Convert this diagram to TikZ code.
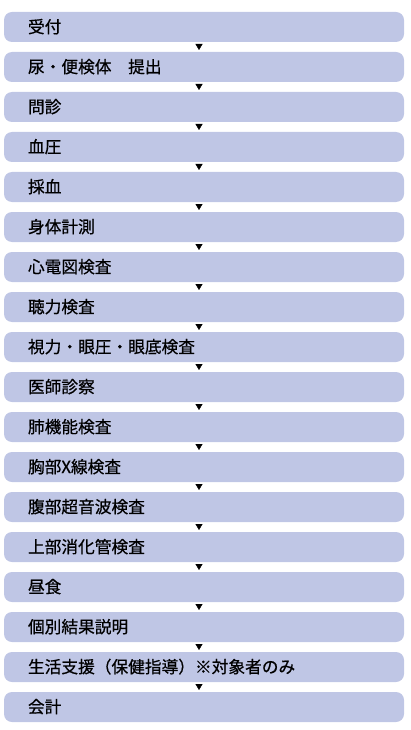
\documentclass[tikz,border=0pt]{standalone}
\usepackage{fontspec}
\newfontfamily\jpfont[FakeBold=0.6]{Noto Sans CJK JP}
\usetikzlibrary{arrows.meta,positioning}

\definecolor{stepfill}{RGB}{191,198,229}

\tikzset{
  stagebox/.style={fill=stepfill, rounded corners=8pt, minimum width=400pt,
    minimum height=30pt, text width=352pt, align=left, inner xsep=24pt,
    inner ysep=0pt, outer sep=0pt, text height=13.5pt, text depth=1.5pt,
    font=\jpfont\fontsize{16.7}{18}\selectfont, anchor=north},
  nextstep/.style={-{Triangle[width=7pt,length=6pt]}, shorten <=2pt, shorten >=2pt}
}

\begin{document}
\begin{tikzpicture}[x=1pt,y=1pt]

    % page frame
    \useasboundingbox (0,0) rectangle (410,-730);

    % reception
    \node[stagebox] (uketsuke) at (204,-12) {受付};
    \node[stagebox, below=10pt of uketsuke] (kentai) {尿・便検体　提出};
    \node[stagebox, below=10pt of kentai] (monshin) {問診};
    \node[stagebox, below=10pt of monshin] (ketsuatsu) {血圧};
    \node[stagebox, below=10pt of ketsuatsu] (saiketsu) {採血};
    \node[stagebox, below=10pt of saiketsu] (shintai) {身体計測};

    % examinations
    \node[stagebox, below=10pt of shintai] (shindenzu) {心電図検査};
    \node[stagebox, below=10pt of shindenzu] (choryoku) {聴力検査};
    \node[stagebox, below=10pt of choryoku] (shiryoku) {視力・眼圧・眼底検査};
    \node[stagebox, below=10pt of shiryoku] (shinsatsu) {医師診察};
    \node[stagebox, below=10pt of shinsatsu] (haikino) {肺機能検査};
    \node[stagebox, below=10pt of haikino] (xsen) {胸部X線検査};
    \node[stagebox, below=10pt of xsen] (choonpa) {腹部超音波検査};
    \node[stagebox, below=10pt of choonpa] (shokakan) {上部消化管検査};

    % lunch and results
    \node[stagebox, below=10pt of shokakan] (chushoku) {昼食};
    \node[stagebox, below=10pt of chushoku] (setsumei) {個別結果説明};
    \node[stagebox, below=10pt of setsumei] (shien) {生活支援（保健指導）※対象者のみ};
    \node[stagebox, below=10pt of shien] (kaikei) {会計};

    % arrows between stages
    \draw[nextstep] ([xshift=-5pt]uketsuke.south) to ([xshift=-5pt]kentai.north);
    \draw[nextstep] ([xshift=-5pt]kentai.south) to ([xshift=-5pt]monshin.north);
    \draw[nextstep] ([xshift=-5pt]monshin.south) to ([xshift=-5pt]ketsuatsu.north);
    \draw[nextstep] ([xshift=-5pt]ketsuatsu.south) to ([xshift=-5pt]saiketsu.north);
    \draw[nextstep] ([xshift=-5pt]saiketsu.south) to ([xshift=-5pt]shintai.north);
    \draw[nextstep] ([xshift=-5pt]shintai.south) to ([xshift=-5pt]shindenzu.north);
    \draw[nextstep] ([xshift=-5pt]shindenzu.south) to ([xshift=-5pt]choryoku.north);
    \draw[nextstep] ([xshift=-5pt]choryoku.south) to ([xshift=-5pt]shiryoku.north);
    \draw[nextstep] ([xshift=-5pt]shiryoku.south) to ([xshift=-5pt]shinsatsu.north);
    \draw[nextstep] ([xshift=-5pt]shinsatsu.south) to ([xshift=-5pt]haikino.north);
    \draw[nextstep] ([xshift=-5pt]haikino.south) to ([xshift=-5pt]xsen.north);
    \draw[nextstep] ([xshift=-5pt]xsen.south) to ([xshift=-5pt]choonpa.north);
    \draw[nextstep] ([xshift=-5pt]choonpa.south) to ([xshift=-5pt]shokakan.north);
    \draw[nextstep] ([xshift=-5pt]shokakan.south) to ([xshift=-5pt]chushoku.north);
    \draw[nextstep] ([xshift=-5pt]chushoku.south) to ([xshift=-5pt]setsumei.north);
    \draw[nextstep] ([xshift=-5pt]setsumei.south) to ([xshift=-5pt]shien.north);
    \draw[nextstep] ([xshift=-5pt]shien.south) to ([xshift=-5pt]kaikei.north);

\end{tikzpicture}
\end{document}
